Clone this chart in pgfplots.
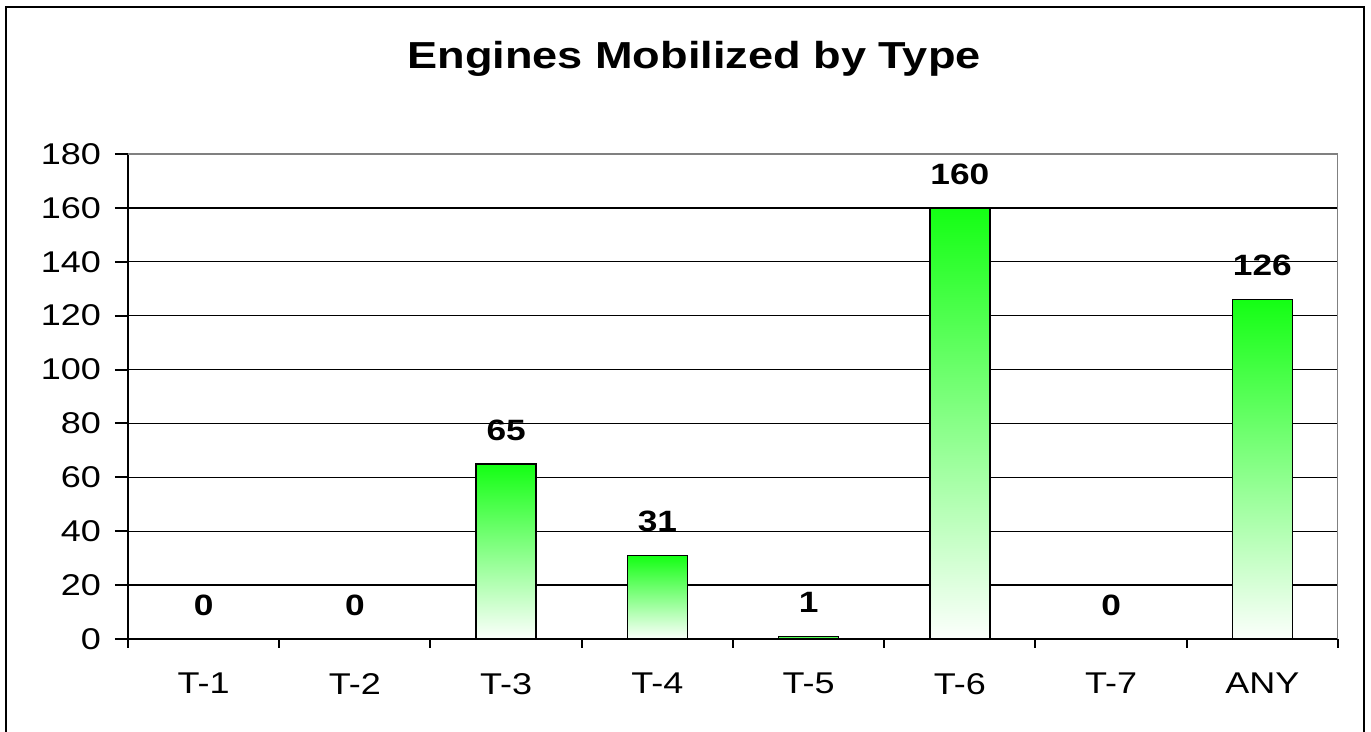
\documentclass[border=0pt]{standalone}
\usepackage{pgfplots}
\pgfplotsset{compat=1.18}
\usepackage{fontspec}
\setmainfont[FakeStretch=1.2]{Liberation Sans}
\definecolor{bargreen}{RGB}{20,255,20}
\definecolor{barmid}{RGB}{168,251,168}
\definecolor{barlow}{RGB}{252,255,252}
\definecolor{framegray}{RGB}{128,128,128}
\begin{document}
\begin{tikzpicture}
\useasboundingbox (0,0) rectangle (685.5pt,366pt);
\draw[line width=1pt] (3pt,-2pt) -- (3pt,362.5pt) -- (682pt,362.5pt) -- (682pt,-2pt);
\node[anchor=base, font=\bfseries\fontsize{18.8}{22}\selectfont, inner sep=0pt] at (347pt,331.5pt) {Engines Mobilized by Type};
\begin{axis}[
  at={(64pt,46.5pt)}, anchor=south west, scale only axis,
  width=605pt, height=242.5pt,
  xmin=-0.5, xmax=7.5, ymin=0, ymax=180,
  axis x line*=bottom, axis y line*=left,
  axis line style={-, black, line width=1pt},
  /pgf/number format/assume math mode=true,
  ytick={0,20,...,180},
  xtick={0,...,7},
  xticklabels={T-1,T-2,T-3,T-4,T-5,T-6,T-7,ANY},
  minor xtick={-0.5,0.5,...,7.5},
  major x tick style={draw=none},
  tick align=outside,
  major tick length=6.5pt,
  minor tick length=4.5pt,
  tick style={black, line width=1pt},
  ymajorgrids,
  grid style={black, line width=0.7pt},
  tick label style={font=\fontsize{15}{17}\selectfont},
  yticklabel style={xshift=-3.5pt},
  xticklabel style={yshift=-7pt},
  nodes near coords style={font=\bfseries\fontsize{14.7}{17}\selectfont, anchor=south, inner sep=0pt, yshift=11.5pt},
  bar/.style={ybar, bar width=30pt, bar shift=0pt, draw=black, line width=0.75pt, top color=bargreen, middle color=barmid, bottom color=barlow},
]
\addplot[bar] coordinates {(2,65)};
\addplot[bar] coordinates {(3,31)};
\addplot[bar] coordinates {(4,1)};
\addplot[bar] coordinates {(5,160)};
\addplot[bar] coordinates {(7,126)};
\addplot[ybar, bar width=30pt, bar shift=0pt, draw=none, fill=none, nodes near coords]
  coordinates {(0,0) (1,0) (2,65) (3,31) (4,1) (5,160) (6,0) (7,126)};
\draw[framegray, line width=0.7pt] (rel axis cs:0,1) -- (rel axis cs:1,1) -- (rel axis cs:1,0);
\end{axis}
\end{tikzpicture}
\end{document}
